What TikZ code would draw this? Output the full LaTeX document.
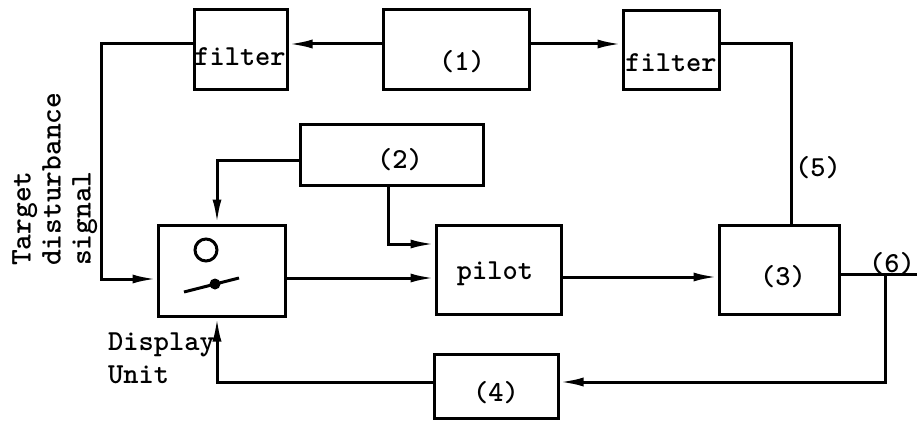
\documentclass[tikz,border=0pt]{standalone}
\usetikzlibrary{arrows.meta}
\begin{document}
\begin{tikzpicture}[x=1pt, y=-1pt,
  blk/.style={draw, line width=3pt, inner sep=0pt},
  lbl/.style={font=\fontsize{29}{33}\selectfont\ttfamily\bfseries, inner sep=0pt},
  wire/.style={line width=3pt},
  arr/.style={wire, -{Latex[length=24pt,width=9pt]}}]
\useasboundingbox (0,0) rectangle (917,420);

% blocks
\node[blk, minimum width=93pt,  minimum height=79pt] (f1)    at (240.5,49.5) {};
\node[blk, minimum width=146pt, minimum height=79pt] (one)   at (456,49.5)   {};
\node[blk, minimum width=96pt,  minimum height=78pt] (f2)    at (671,50)     {};
\node[blk, minimum width=183pt, minimum height=61pt] (two)   at (391.5,154.5) {};
\node[blk, minimum width=127pt, minimum height=91pt] (disp)  at (221.5,270.5) {};
\node[blk, minimum width=125pt, minimum height=89pt] (pilot) at (498.5,269.5) {};
\node[blk, minimum width=120pt, minimum height=89pt] (three) at (779,269.5)  {};
\node[blk, minimum width=124pt, minimum height=64pt] (four)  at (496,386)    {};

% block texts
\node[lbl] (tf1) at (240,57)  {filter};
\node[lbl] (t1)  at (462,62)  {(1)};
\node[lbl] (tf2) at (671,63)  {filter};
\node[lbl] (t2)  at (400,160) {(2)};
\node[lbl] (tp)  at (495,274) {pilot};
\node[lbl] (t3)  at (783,277) {(3)};
\node[lbl] (t4)  at (496,393) {(4)};
\node[lbl] (t5)  at (818,168) {(5)};
\node[lbl] (t6)  at (892,264) {(6)};
\node[lbl, align=left, anchor=north west] (tdu) at (108,333) {Display\\Unit};
\node[lbl, font=\fontsize{30}{30}\selectfont\ttfamily\bfseries, rotate=90, align=left,
      anchor=north west] (ttd) at (12,266) {Target\\disturbance\\signal};

% display unit symbols
\draw[line width=3pt] (206,250) circle[radius=11];
\draw[line width=3pt] (184,292) -- (239,278);
\fill (215,284) circle[radius=5.5];

% connectors
\draw[arr] (one.west |- 0,44) -- (f1.east |- 0,44);
\draw[arr] (one.east |- 0,44) -- (f2.west |- 0,44);
\draw[arr] (f1.west |- 0,44) -- (101,44) -- (101,279) -- (disp.west |- 0,279);
\draw[wire] (f2.east |- 0,44) -- (791,44) -- (three.north -| 791,0);
\draw[arr] (two.west |- 0,160) -- (217,160) -- (disp.north -| 217,0);
\draw[arr] (two.south -| 388,0) -- (388,244) -- (pilot.west |- 0,244);
\draw[arr] (disp.east |- 0,278) -- (pilot.west |- 0,278);
\draw[arr] (pilot.east |- 0,277) -- (three.west |- 0,277);
\coordinate (out) at (917,274);
\coordinate (br) at (885,274);
\draw[wire] (three.east |- 0,274) -- (out);
\draw[arr] (br) -- (885,382) -- (four.east |- 0,382);
\draw[arr] (four.west |- 0,382) -- (217,382) -- (disp.south -| 217,0);
\end{tikzpicture}
\end{document}
